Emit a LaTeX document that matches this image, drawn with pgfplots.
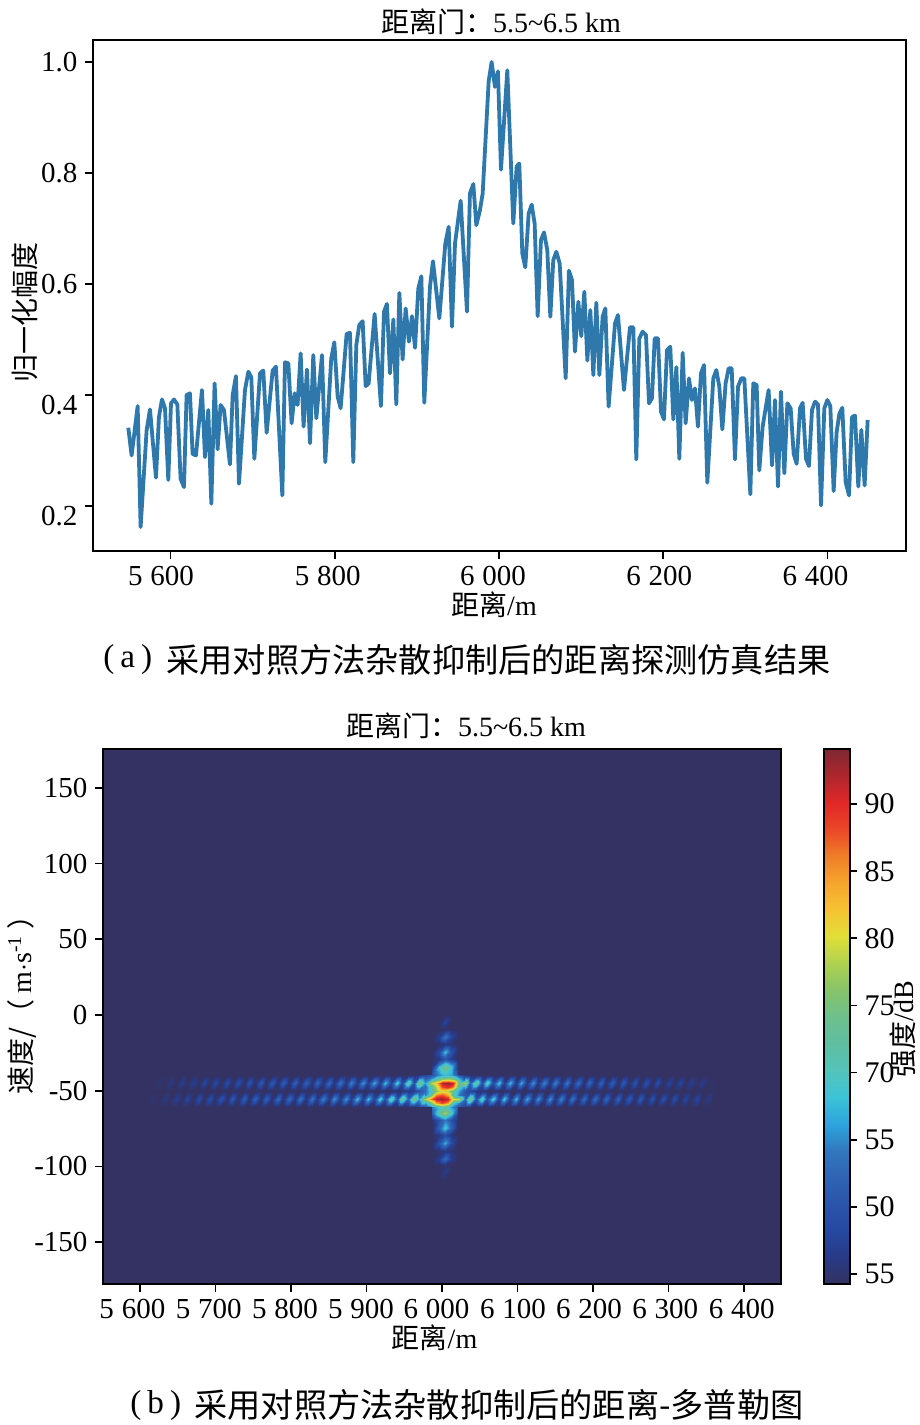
\documentclass[border=0pt]{standalone}
\usepackage{fontspec}
\setmainfont{Liberation Serif}
\newfontfamily\cjk{Noto Sans CJK SC}
\usepackage{pgfplots}
\pgfplotsset{compat=1.18}
\definecolor{linecol}{RGB}{46,120,172}
\newcommand\s{\kern3.9pt}
\pgfplotsset{
  colormap={ref}{
    rgb255(0pt)=(52,50,98); rgb255(5pt)=(40,58,135); rgb255(10pt)=(38,72,160); rgb255(15pt)=(42,85,170);
    rgb255(20pt)=(48,100,180); rgb255(25pt)=(50,120,190); rgb255(30pt)=(45,165,220); rgb255(35pt)=(60,195,215);
    rgb255(40pt)=(85,195,185); rgb255(45pt)=(95,190,160); rgb255(50pt)=(110,192,140); rgb255(55pt)=(135,195,105);
    rgb255(60pt)=(175,210,80); rgb255(65pt)=(225,222,55); rgb255(70pt)=(245,195,50); rgb255(75pt)=(245,165,45);
    rgb255(80pt)=(240,125,40); rgb255(85pt)=(235,70,40); rgb255(90pt)=(225,40,40); rgb255(95pt)=(175,38,45);
    rgb255(100pt)=(125,40,50)},
  every tick label/.append style={font=\fontsize{14.5}{16}\selectfont},
  every axis/.append style={line width=0.9pt, tick style={black,line width=0.9pt}, major tick length=4pt, tick align=outside},
}
\begin{document}
\begin{tikzpicture}[x=0.5pt,y=-0.5pt]
\path[use as bounding box] (0,0) rectangle (920,1425);
% --- (a)
\begin{axis}[
  at={(46.5pt,-275.5pt)}, anchor=south west, scale only axis, width=406.5pt, height=255.5pt,
  xmin=5505.5, xmax=6495.7, ymin=0.1189, ymax=1.0396,
  tick pos=left,
  xtick={5600,5800,6000,6200,6400},
  xticklabels={5\s600\kern9.5pt,5\s800\kern7pt,6\s000\kern6pt,6\s200\kern4pt,6\s400\kern12pt},
  ytick={0.2,0.4,0.6,0.8,1.0},
  yticklabels={\raisebox{-5pt}[9.5pt][0pt]{0.2},\raisebox{-5pt}[9.5pt][0pt]{0.4},0.6,0.8,1.0},
]
\addplot[linecol, line width=1.9pt, line join=round] table[row sep=\\] {
x y\\
5548.5 .341\\5552.5 .291\\5559.9 .380\\5563.5 .162\\5570.8 .336\\5574.9 .374\\5582.2 .251\\5585.8 .360\\5589.5 .392\\5593.2 .376\\
5597.2 .247\\5600.5 .385\\5604.1 .392\\5608.2 .383\\5612.2 .249\\5616.3 .234\\5619.5 .400\\5623.6 .403\\5626.8 .294\\5630.9 .291\\
5638.2 .409\\5641.9 .288\\5645.9 .373\\5649.6 .204\\5653.6 .421\\5657.3 .302\\5660.9 .382\\5665.0 .373\\5672.3 .275\\5675.6 .400\\
5679.6 .434\\5683.3 .240\\5690.6 .409\\5694.7 .442\\5698.3 .432\\5702.0 .285\\5708.9 .439\\5712.9 .444\\5717.0 .332\\5724.3 .444\\
5728.3 .451\\5736.1 .219\\5739.3 .459\\5743.4 .457\\5747.4 .349\\5751.1 .403\\5754.7 .382\\5758.4 .475\\5762.0 .343\\5766.1 .446\\
5769.8 .313\\5773.8 .472\\5777.5 .358\\5784.4 .472\\5788.4 .279\\5795.7 .466\\5799.4 .495\\5803.5 .397\\5807.1 .376\\5814.4 .510\\
5818.5 .512\\5822.5 .279\\5826.2 .490\\5829.8 .526\\5833.9 .533\\5837.6 .416\\5841.2 .421\\5848.5 .546\\5856.2 .380\\5859.9 .550\\
5863.5 .564\\5867.2 .439\\5871.3 .536\\5874.9 .383\\5878.6 .584\\5882.6 .464\\5886.3 .556\\5890.3 .496\\5894.0 .542\\5897.7 .485\\
5901.7 .592\\5905.4 .614\\5909.0 .386\\5915.9 .595\\5919.6 .641\\5927.3 .538\\5934.6 .673\\5938.7 .703\\5942.7 .523\\5946.4 .673\\
5953.3 .750\\5961.0 .550\\5964.6 .763\\5968.7 .780\\5972.4 .706\\5976.8 .733\\5980.1 .763\\5987.4 .965\\5991.0 1.0\\5995.1 .955\\
5998.7 .983\\6002.4 .806\\6010.1 .985\\6017.4 .709\\6021.5 .812\\6024.7 .817\\6028.4 .655\\6032.0 .630\\6036.1 .727\\6039.8 .743\\
6043.4 .709\\6047.1 .542\\6051.1 .679\\6054.8 .693\\6058.8 .661\\6062.5 .541\\6066.1 .643\\6069.8 .658\\6073.9 .637\\6081.2 .430\\
6085.2 .624\\6088.9 .607\\6092.5 .478\\6096.6 .568\\6100.2 .506\\6103.9 .586\\6107.6 .462\\6111.2 .553\\6114.9 .436\\6118.5 .566\\
6122.2 .436\\6126.2 .541\\6129.5 .556\\6133.5 .379\\6141.3 .529\\6144.9 .544\\6152.2 .409\\6159.5 .522\\6163.6 .522\\6167.2 .284\\
6170.9 .502\\6174.9 .514\\6179.0 .508\\6182.7 .385\\6186.3 .394\\6189.6 .502\\6193.6 .502\\6197.3 .370\\6200.9 .356\\6204.6 .481\\
6208.6 .487\\6212.3 .356\\6216.0 .450\\6219.6 .285\\6223.7 .476\\6227.3 .349\\6231.4 .430\\6235.0 .391\\6238.7 .412\\6242.3 .343\\
6246.0 .439\\6249.7 .454\\6253.7 .242\\6261.0 .430\\6264.7 .445\\6268.3 .415\\6272.0 .338\\6276.0 .421\\6279.7 .448\\6283.4 .448\\
6287.4 .284\\6291.1 .415\\6295.1 .430\\6298.8 .430\\6306.1 .221\\6309.7 .421\\6313.8 .418\\6317.0 .264\\6321.1 .343\\6328.4 .409\\
6332.5 .273\\6336.1 .391\\6339.8 .235\\6343.4 .406\\6347.5 .259\\6351.2 .385\\6355.2 .376\\6358.9 .294\\6362.5 .276\\6366.6 .376\\
6369.8 .386\\6373.9 .285\\6377.5 .272\\6381.2 .373\\6384.9 .388\\6388.5 .383\\6392.2 .201\\6396.2 .376\\6399.9 .391\\6403.5 .380\\
6407.6 .227\\6411.2 .333\\6414.5 .366\\6418.1 .377\\6422.2 .243\\6426.3 .219\\6429.9 .360\\6433.6 .363\\6437.6 .235\\6441.3 .337\\
6445.3 .237\\6449.0 .355\\
};
\end{axis}
% --- (b)
\begin{axis}[
  at={(51.5pt,-642pt)}, anchor=south west, scale only axis, width=339pt, height=267.5pt,
  xmin=5551, xmax=6449, ymin=-177.6, ymax=175.6,
  tick pos=left, axis on top,
  colormap name=ref, point meta min=54.25, point meta max=94.1,
  xtick={5600,5700,5800,5900,6000,6100,6200,6300,6400},
  xticklabels={5\s600\kern7.6pt,5\s700\kern6.7pt,5\s800\kern5.9pt,5\s900\kern5.5pt,6\s000\kern5.6pt,6\s100\kern4.5pt,6\s200\kern4pt,6\s300\kern3.2pt,6\s400\kern2.3pt},
  ytick={-150,-100,-50,0,50,100,150},
  yticklabels={-150,-100,-50,0,50,100,150},
  colorbar,
  colorbar style={at={(1.0634,1)}, anchor=north west, width=13pt,
    line width=0.9pt, tick pos=right, tick align=outside,
    major tick length=3.5pt,
    ytick={55,60,65,70,75,80,85,90},
    yticklabels={55,50,55,70,75,80,85,90},
    every tick label/.append style={font=\fontsize{15}{16}\selectfont}},
]
% background of the map
\addplot[surf, shader=interp, mesh/cols=2, point meta=explicit] table[meta=c, row sep=\\] {
x y c\\
5551 -177.6 54\\
6449 -177.6 54\\
5551 175.6 54\\
6449 175.6 54\\
};
% the two streaks: five rows of 101 cells, 7.5 m apart from 5610 m, 5.25 m/s apart from -39.7 m/s
\addplot[surf, shader=interp, mesh/cols=101, point meta=explicit] table[header=false, row sep=\\,
  x expr={5610+7.5*mod(\coordindex,101)}, y expr={-39.7-5.25*floor(\coordindex/101)}, meta index=0] {
54\\54\\54\\54\\54\\54\\54\\54\\54\\54\\54\\54\\54\\54\\54\\54\\54\\54\\54\\54\\54\\54\\54\\54\\54\\54\\54\\54\\54\\54\\54\\54\\54\\54\\54\\54\\54\\54\\54\\54\\54\\54\\54\\54\\54\\54\\54\\
55\\56\\58\\60\\63\\67\\68\\66\\60\\56\\55\\
54\\54\\54\\54\\54\\54\\54\\54\\54\\54\\54\\54\\54\\54\\54\\54\\54\\54\\54\\54\\54\\54\\54\\54\\54\\54\\54\\54\\54\\54\\54\\54\\54\\54\\54\\54\\54\\54\\54\\54\\54\\54\\54\\
54\\54\\55\\54\\56\\54\\57\\54\\57\\54\\
58\\54\\58.5\\54\\59\\54.5\\59.5\\54.5\\60\\54.5\\
61\\54.5\\61\\55\\61.5\\55\\62\\55\\62\\55.5\\
62.5\\55.5\\63\\55.5\\64\\56\\65\\56.5\\66\\57\\
67\\57.5\\68\\58\\70\\59\\73\\60\\76\\66\\
78\\82\\91\\93\\91\\72\\78\\62\\74\\60\\
72\\59\\69\\57\\68\\56.5\\67\\56\\66\\56\\
65\\55.5\\65\\55.5\\64\\55\\63\\55\\62.5\\55\\
62\\54.5\\61.5\\54.5\\61\\54.5\\60\\54\\59.5\\54\\
59\\54\\58\\54\\58\\54\\57\\54\\56.5\\54\\55\\
54\\54\\54\\54\\54\\54\\54\\54\\54\\54\\54\\54\\54\\54\\54\\54\\54\\54\\54\\54\\54\\54\\54\\54\\54\\54\\54\\54\\54\\54\\54\\54\\54\\54\\54\\54\\54\\54\\54\\54\\54\\54\\54\\54\\54\\
55\\56\\57\\60\\63\\70\\76\\80\\78\\72\\66\\60\\58\\56\\55\\
54\\54\\54\\54\\54\\54\\54\\54\\54\\54\\54\\54\\54\\54\\54\\54\\54\\54\\54\\54\\54\\54\\54\\54\\54\\54\\54\\54\\54\\54\\54\\54\\54\\54\\54\\54\\54\\54\\54\\54\\54\\
54\\55\\54\\56\\54\\57\\54\\58\\54\\59\\
54\\59.5\\54.5\\60\\54.5\\61\\54.5\\61.5\\55\\62\\
55\\62\\55\\63\\55\\63\\55.5\\64\\55.5\\64\\
56\\65\\56\\66\\56.5\\66\\57\\68\\57\\68\\
58\\70\\59\\73\\60\\75\\62\\76\\66\\78\\
82\\92\\93\\91\\80\\79\\62\\76\\60\\72\\
59\\70\\57\\69\\56.5\\68\\56\\67\\56\\66\\
55.5\\66\\55.5\\65\\55\\64\\55\\63\\55\\63\\
55\\62.5\\54.5\\62\\54.5\\61\\54.5\\61\\54\\60\\
54\\59.5\\54\\59\\54\\58\\54\\58\\54\\56\\54\\
54\\54\\54\\54\\54\\54\\54\\54\\54\\54\\54\\54\\54\\54\\54\\54\\54\\54\\54\\54\\54\\54\\54\\54\\54\\54\\54\\54\\54\\54\\54\\54\\54\\54\\54\\54\\54\\54\\54\\54\\54\\54\\54\\54\\54\\54\\
55\\56\\58\\60\\64\\68\\72\\70\\64\\60\\57\\55\\
54\\54\\54\\54\\54\\54\\54\\54\\54\\54\\54\\54\\54\\54\\54\\54\\54\\54\\54\\54\\54\\54\\54\\54\\54\\54\\54\\54\\54\\54\\54\\54\\54\\54\\54\\54\\54\\54\\54\\54\\54\\54\\54\\
};
% the red centre, on a finer grid
\addplot[surf, shader=interp, mesh/cols=8, point meta=explicit] table[meta=c, row sep=\\] {
x y c\\
5977.5 -39.7 58\\5985 -39.7 60\\5992.5 -39.7 63\\6000 -39.7 67\\6007.5 -39.7 68\\6015 -39.7 66\\6022.5 -39.7 60\\6030 -39.7 56\\
5977.5 -42.35 62\\5985 -42.35 66\\5992.5 -42.35 72\\6000 -42.35 76\\6007.5 -42.35 78\\6015 -42.35 76\\6022.5 -42.35 68\\6030 -42.35 60\\
5977.5 -45 66\\5985 -45 78\\5992.5 -45 82\\6000 -45 92\\6007.5 -45 93\\6015 -45 91\\6022.5 -45 72\\6030 -45 78\\
5977.5 -47.6 62\\5985 -47.6 72\\5992.5 -47.6 78\\6000 -47.6 88\\6007.5 -47.6 90\\6015 -47.6 86\\6022.5 -47.6 70\\6030 -47.6 64\\
5977.5 -50.2 63\\5985 -50.2 70\\5992.5 -50.2 76\\6000 -50.2 80\\6007.5 -50.2 78\\6015 -50.2 72\\6022.5 -50.2 66\\6030 -50.2 60\\
5977.5 -52.8 64\\5985 -52.8 74\\5992.5 -52.8 86\\6000 -52.8 88\\6007.5 -52.8 84\\6015 -52.8 72\\6022.5 -52.8 64\\6030 -52.8 60\\
5977.5 -55.4 78\\5985 -55.4 86\\5992.5 -55.4 92\\6000 -55.4 93\\6007.5 -55.4 91\\6015 -55.4 80\\6022.5 -55.4 79\\6030 -55.4 62\\
5977.5 -58 66\\5985 -58 74\\5992.5 -58 84\\6000 -58 88\\6007.5 -58 84\\6015 -58 70\\6022.5 -58 64\\6030 -58 60\\
5977.5 -60.7 60\\5985 -60.7 64\\5992.5 -60.7 68\\6000 -60.7 72\\6007.5 -60.7 70\\6015 -60.7 64\\6022.5 -60.7 60\\6030 -60.7 57\\
};
% the vertical arm above the streaks
\addplot[surf, shader=interp, mesh/cols=5, point meta=explicit] table[meta=c, row sep=\\] {
x y c\\
5987 0 54\\5996 0 54\\6004 0 54\\6012 0 54\\6021 0 54\\
5987 -4.4 54\\5996 -4.4 54\\6004 -4.4 58\\6012 -4.4 54\\6021 -4.4 54\\
5987 -9.3 54\\5996 -9.3 54\\6004 -9.3 54.5\\6012 -9.3 54\\6021 -9.3 54\\
5987 -14.3 54\\5996 -14.3 57\\6004 -14.3 64\\6012 -14.3 58\\6021 -14.3 54\\
5987 -19.2 54\\5996 -19.2 54.5\\6004 -19.2 56\\6012 -19.2 55\\6021 -19.2 54\\
5987 -24.2 54\\5996 -24.2 59\\6004 -24.2 68\\6012 -24.2 60\\6021 -24.2 54\\
5987 -29.1 54\\5996 -29.1 56\\6004 -29.1 60\\6012 -29.1 57\\6021 -29.1 54\\
5987 -34.1 56\\5996 -34.1 68\\6004 -34.1 75\\6012 -34.1 69\\6021 -34.1 56\\
5987 -39.7 60\\5996 -39.7 65\\6004 -39.7 68\\6012 -39.7 67\\6021 -39.7 60\\
};
% the vertical arm below the streaks
\addplot[surf, shader=interp, mesh/cols=5, point meta=explicit] table[meta=c, row sep=\\] {
x y c\\
5987 -60.7 64\\5996 -60.7 69\\6004 -60.7 71\\6012 -60.7 66\\6021 -60.7 60\\
5987 -64.7 62\\5996 -64.7 72\\6004 -64.7 78\\6012 -64.7 70\\6021 -64.7 58\\
5987 -69.6 55\\5996 -69.6 60\\6004 -69.6 64\\6012 -69.6 60\\6021 -69.6 55\\
5987 -74.6 54\\5996 -74.6 62\\6004 -74.6 69\\6012 -74.6 62\\6021 -74.6 54\\
5987 -79.5 54\\5996 -79.5 56\\6004 -79.5 59\\6012 -79.5 56\\6021 -79.5 54\\
5987 -84.5 54\\5996 -84.5 60\\6004 -84.5 67\\6012 -84.5 59\\6021 -84.5 54\\
5987 -89.8 54\\5996 -89.8 54.5\\6004 -89.8 56\\6012 -89.8 55\\6021 -89.8 54\\
5987 -95 54\\5996 -95 57\\6004 -95 63\\6012 -95 57\\6021 -95 54\\
5987 -99.3 54\\5996 -99.3 54\\6004 -99.3 55\\6012 -99.3 54\\6021 -99.3 54\\
5987 -103.6 54\\5996 -103.6 54\\6004 -103.6 56.5\\6012 -103.6 54\\6021 -103.6 54\\
5987 -108 54\\5996 -108 54\\6004 -108 54\\6012 -108 54\\6021 -108 54\\
};
\end{axis}
% --- texts
\newcommand\fs{\fontsize{14}{16}\selectfont}
\node[font=\fs] at (501,22) {{\cjk 距离门：}5.5\textasciitilde6.5 km};
\node[font=\fs] at (466,726) {{\cjk 距离门：}5.5\textasciitilde6.5 km};
\node[font=\fs] at (494,605) {{\cjk 距离}/m};
\node[font=\fs] at (434.5,1338) {{\cjk 距离}/m};
\node[font=\fs,rotate=90] at (25,312) {\cjk 归一化幅度};
\node[font=\fs,rotate=90] at (22,998) {{\cjk 速度/（}\kern3pt m$\cdot$s\textsuperscript{-1}\kern3pt{\cjk ）}};
\node[font=\fs,rotate=90] at (903,1029) {{\cjk 强度}/dB};
\node[font=\fontsize{16.6}{18}\selectfont,anchor=west,inner sep=0pt] at (103,660) {(\kern3pt a\kern3pt)};
\node[font=\fontsize{16.6}{18}\selectfont,anchor=west,inner sep=0pt] at (166,660) {\cjk 采用对照方法杂散抑制后的距离探测仿真结果};
\node[font=\fontsize{16.6}{18}\selectfont,anchor=west,inner sep=0pt] at (130,1405) {(\kern3pt b\kern3pt)};
\node[font=\fontsize{16.6}{18}\selectfont,anchor=west,inner sep=0pt] at (194,1405) {\cjk 采用对照方法杂散抑制后的距离-多普勒图};
\end{tikzpicture}
\end{document}
